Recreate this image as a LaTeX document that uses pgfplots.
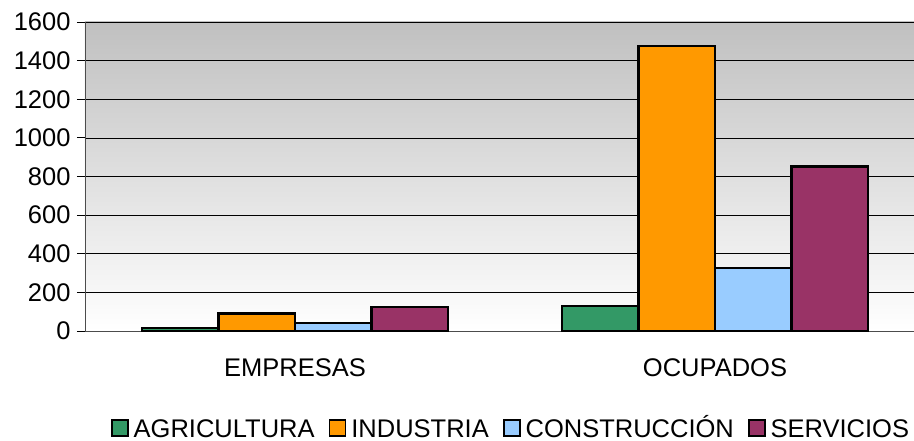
\documentclass[border=0pt]{standalone}
\usepackage{pgfplots}
\pgfplotsset{compat=1.18}
\usepackage{fontspec}
\setmainfont{Liberation Sans}
\definecolor{cagr}{RGB}{51,153,102}
\definecolor{cind}{RGB}{255,153,0}
\definecolor{ccon}{RGB}{153,204,255}
\definecolor{cser}{RGB}{153,51,102}
\definecolor{bgtop}{RGB}{192,192,192}
\begin{document}
\begin{tikzpicture}
\useasboundingbox (-85bp,-110bp) rectangle (829bp,331bp);
\begin{axis}[
  at={(0,0)}, anchor=south west,
  scale only axis, width=840bp, height=309bp,
  xmin=-0.5, xmax=1.5, ymin=0, ymax=1600,
  ybar=0pt, bar width=0.182,
  axis lines*=left,
  axis line style={line width=0.9pt, draw=black!70},
  axis background/.style={top color=bgtop, bottom color=white},
  ytick={0,200,...,1600},
  ymajorgrids, grid style={black, line width=0.7pt},
  xtick={0,1}, xticklabels={EMPRESAS,OCUPADOS},
  major x tick style={draw=none},
  extra x ticks={-0.5,0.5,1.5}, extra x tick labels={},
  extra x tick style={major tick length=7bp, tick align=outside, tick style={draw=black!70, line width=0.9pt}, grid=none},
  ytick style={draw=black, line width=0.8pt},
  major tick length=8bp, tick align=outside,
  tick label style={font=\fontsize{25.5bp}{29bp}\selectfont},
  yticklabel style={xshift=-3bp},
  xticklabel style={yshift=-16bp},
  /pgf/number format/assume math mode=true,
  /pgf/number format/1000 sep={},
  legend columns=-1,
  legend style={draw=none, fill=none, at={(510bp-85bp,-97bp)}, anchor=center,
    font=\fontsize{25.5bp}{29bp}\selectfont,
    nodes={inner sep=0pt, text height=18bp, text depth=0bp},
    /tikz/every odd column/.append style={column sep=5bp},
    /tikz/every even column/.append style={column sep=14bp},
    inner sep=0pt},
  legend image code/.code={\draw[#1, line width=1.8pt] (0bp,-8bp) rectangle (16bp,8bp);},
  every axis plot/.append style={draw=black, line width=2.3pt},
  clip=false,
]
\addplot[fill=cagr] coordinates {(0,17) (1,130)};
\addplot[fill=cind] coordinates {(0,90) (1,1476)};
\addplot[fill=ccon] coordinates {(0,42) (1,326)};
\addplot[fill=cser] coordinates {(0,125) (1,852)};
\legend{AGRICULTURA,INDUSTRIA,CONSTRUCCIÓN,SERVICIOS}
\end{axis}
\end{tikzpicture}
\end{document}
